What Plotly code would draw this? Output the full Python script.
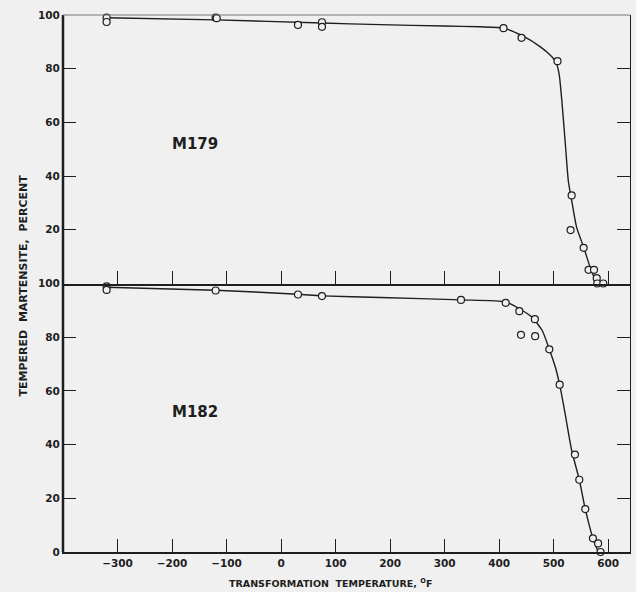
import plotly.graph_objects as go

# ---- data ----
m179_x = [-320, -320, -120, -118, 31, 75, 75, 408, 441, 507, 533, 531, 555, 564, 574, 579, 580, 591]
m179_y = [99, 97.4, 99, 98.8, 96.3, 97.3, 95.6, 95.1, 91.5, 82.8, 32.8, 19.9, 13.3, 5.1, 5.1, 2, 0, 0]

m179_curve_x = [-320, -120, 75, 182, 300, 365, 408, 445, 475, 494, 504, 510, 515, 521, 527, 533, 542, 555, 567, 579]
m179_curve_y = [99, 98.2, 97, 96.4, 95.9, 95.6, 95.1, 92, 88.2, 85, 82.5, 78, 68, 53, 38, 31, 21, 13.5, 6, 0]

m182_x = [-320, -320, -120, 31, 75, 330, 412, 437, 465.5, 440, 466, 492, 511, 539, 547, 558, 572, 581.5, 586]
m182_y = [98.9, 97.6, 97.4, 95.9, 95.3, 93.9, 92.8, 89.7, 86.7, 80.9, 80.4, 75.5, 62.3, 36.3, 26.9, 16.0, 5.1, 3.2, 0]

m182_curve_x = [-320, -120, 31, 75, 182, 330, 412, 437, 460, 479, 492, 503, 511, 521, 533, 547, 558, 573, 582]
m182_curve_y = [98.6, 97.5, 96, 95.4, 94.8, 93.9, 93.1, 90.6, 87.5, 82.5, 75.5, 68.9, 62.3, 51.5, 37.9, 26.9, 16, 4.5, 0]

x_tick_vals = [-300, -200, -100, 0, 100, 200, 300, 400, 500, 600]
x_tick_text = ["\u2212300", "\u2212200", "\u2212100", "0", "100", "200", "300", "400", "500", "600"]
top_y_ticks = [20, 40, 60, 80, 100]
bottom_y_ticks = [0, 20, 40, 60, 80, 100]

BG = "#f0f0f0"
INK = "#1e1e1e"
FONT = "DejaVu Sans"

fig = go.Figure()

def add_panel(cx, cy, px, py, xa, ya):
    fig.add_trace(go.Scatter(x=cx, y=cy, mode="lines", xaxis=xa, yaxis=ya,
                             line=dict(color=INK, width=1.4, shape="spline", smoothing=0.6),
                             hoverinfo="skip", showlegend=False))
    fig.add_trace(go.Scatter(x=px, y=py, mode="markers", xaxis=xa, yaxis=ya,
                             marker=dict(symbol="circle", size=7, color=BG,
                                         line=dict(color=INK, width=1.2)),
                             cliponaxis=False, showlegend=False))

add_panel(m179_curve_x, m179_curve_y, m179_x, m179_y, "x2", "y2")
add_panel(m182_curve_x, m182_curve_y, m182_x, m182_y, "x", "y")

tickfont = dict(family=FONT, size=10.5, color=INK, weight="bold")

common_x = dict(range=[-400, 640], tickvals=x_tick_vals, ticks="inside", ticklen=13,
                tickwidth=1.2, tickcolor=INK, showgrid=False, zeroline=False,
                showline=True, linecolor=INK, automargin=False)
common_y = dict(range=[0, 100], ticks="inside", ticklen=13, tickwidth=1.2, tickcolor=INK,
                showgrid=False, zeroline=False, showline=True, linecolor=INK,
                linewidth=1, mirror="ticks", tickfont=tickfont, automargin=False)

fig.update_layout(
    width=636, height=592,
    margin=dict(l=63, r=6, t=15, b=40, autoexpand=False),
    paper_bgcolor=BG, plot_bgcolor=BG,
    xaxis=dict(**common_x, anchor="y", ticktext=x_tick_text, tickfont=tickfont, linewidth=2),
    xaxis2=dict(**common_x, anchor="y2", matches="x", showticklabels=False, linewidth=1.5,
                mirror=False),
    yaxis=dict(**common_y, domain=[0, 0.5], tickvals=bottom_y_ticks, anchor="x"),
    yaxis2=dict(**common_y, domain=[0.5, 1], tickvals=top_y_ticks, anchor="x2"),
    shapes=[
        dict(type="line", xref="paper", yref="paper", x0=0, x1=0, y0=0, y1=1,
             line=dict(color=INK, width=2.5)),
        dict(type="line", xref="paper", yref="paper", x0=0, x1=1, y0=1, y1=1,
             line=dict(color="#777777", width=1)),
    ],
    annotations=[
        dict(text="M179", x=-157, y=52, xref="x2", yref="y2", showarrow=False,
             font=dict(family=FONT, size=15, color=INK, weight="bold")),
        dict(text="M182", x=-157, y=52, xref="x", yref="y", showarrow=False,
             font=dict(family=FONT, size=15, color=INK, weight="bold")),
        dict(text="TRANSFORMATION  TEMPERATURE, <sup>O</sup>F", x=0.471, y=-0.058,
             xref="paper", yref="paper", showarrow=False, yanchor="middle",
             font=dict(family=FONT, size=9.5, color=INK, weight="bold")),
        dict(text="TEMPERED  MARTENSITE,  PERCENT", x=-0.085, y=0.497, xref="paper",
             yref="paper", showarrow=False, textangle=-90,
             font=dict(family=FONT, size=11, color=INK, weight="bold")),
    ],
)

fig.write_html("out.html", config={"displayModeBar": False},
               post_script="document.body.style.margin='0';document.body.style.background='#f0f0f0';")
